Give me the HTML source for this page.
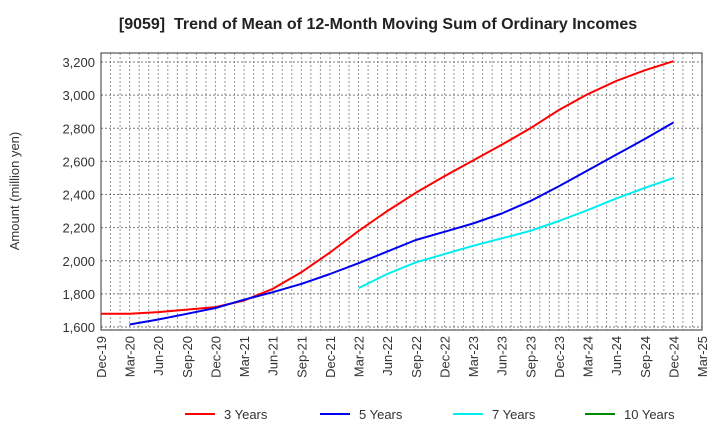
<!DOCTYPE html>
<html><head><meta charset="utf-8"><style>
body{margin:0;background:#fff;font-family:"Liberation Sans",Arial,sans-serif}
svg{display:block}
</style></head><body>
<svg id="c" width="720" height="440" xmlns="http://www.w3.org/2000/svg">
<text x="378" y="29" text-anchor="middle" font-size="16" font-weight="bold" fill="#222" xml:space="preserve">[9059]  Trend of Mean of 12-Month Moving Sum of Ordinary Incomes</text>
<text transform="translate(19,191) rotate(-90)" text-anchor="middle" font-size="13" fill="#333">Amount (million yen)</text>
<g id="grid"></g><g id="axes"></g><g id="series"></g><g id="legend"></g>
</svg>
<script>
const xLabels=["Dec-19","Mar-20","Jun-20","Sep-20","Dec-20","Mar-21","Jun-21","Sep-21","Dec-21","Mar-22","Jun-22","Sep-22","Dec-22","Mar-23","Jun-23","Sep-23","Dec-23","Mar-24","Jun-24","Sep-24","Dec-24","Mar-25"];
const yTicks=[1600,1800,2000,2200,2400,2600,2800,3000,3200];
const s3=[1680,1680,1690,1705,1720,1760,1830,1930,2050,2180,2300,2410,2510,2605,2700,2800,2910,3005,3085,3150,3205];
const s5=[null,1615,1645,1680,1715,1765,1810,1860,1920,1985,2055,2125,2175,2225,2285,2360,2450,2545,2640,2735,2835];
const s7=[null,null,null,null,null,null,null,null,null,1835,1920,1990,2040,2090,2135,2180,2240,2305,2375,2440,2500];
const s10=[];
const names=["3 Years","5 Years","7 Years","10 Years"];
const colors=["#ff0000","#0000ee","#00eeee","#008800"];
const L=101,R=702,T=53,B=330;
const X=i=>L+(R-L)*i/21;
const Y=v=>327-(v-1600)*(265/1600);
const NS="http://www.w3.org/2000/svg";
function mk(p,t,a){const e=document.createElementNS(NS,t);for(const k in a)e.setAttribute(k,a[k]);p.appendChild(e);return e;}
const grid=document.getElementById('grid'),axes=document.getElementById('axes'),ser=document.getElementById('series'),leg=document.getElementById('legend');
for(let m=1;m<63;m++){const x=L+(R-L)*m/63;
const g=mk(grid,'line',{x1:x,x2:x,y1:T,y2:B,stroke:'#999','stroke-dasharray':'2,2','stroke-width':1});

}
yTicks.forEach(v=>{const y=Y(v);
const g=mk(grid,'line',{x1:L,x2:R,y1:y,y2:y,stroke:'#777','stroke-dasharray':'2,2','stroke-width':1});


const t=mk(axes,'text',{x:L-6,y:y+5,'text-anchor':'end','font-size':13,fill:'#333'});t.textContent=v.toLocaleString('en-US');

});
const fr=mk(axes,'rect',{x:L,y:T,width:R-L,height:B-T,fill:'none',stroke:'#333','stroke-width':1});


xLabels.forEach((l,i)=>{const x=X(i);
const t=mk(axes,'text',{transform:`translate(${x+5},${B+6}) rotate(-90)`,'text-anchor':'end','font-size':13,fill:'#333'});t.textContent=l;

});
[s3,s5,s7,s10].forEach((s,k)=>{let d='';s.forEach((v,i)=>{if(v==null)return;d+=(d?'L':'M')+X(i).toFixed(1)+','+Y(v).toFixed(1);});
if(!d)return;const p=mk(ser,'path',{d:d,fill:'none',stroke:colors[k],'stroke-width':2,'stroke-linejoin':'round'});

});
const lx=[185,320,453,585];
names.forEach((n,k)=>{
const ln=mk(leg,'line',{x1:lx[k],x2:lx[k]+30,y1:414,y2:414,stroke:colors[k],'stroke-width':2});


const t=mk(leg,'text',{x:lx[k]+39,y:419,'font-size':13,fill:'#333'});t.textContent=n;

});
</script>
</body></html>
